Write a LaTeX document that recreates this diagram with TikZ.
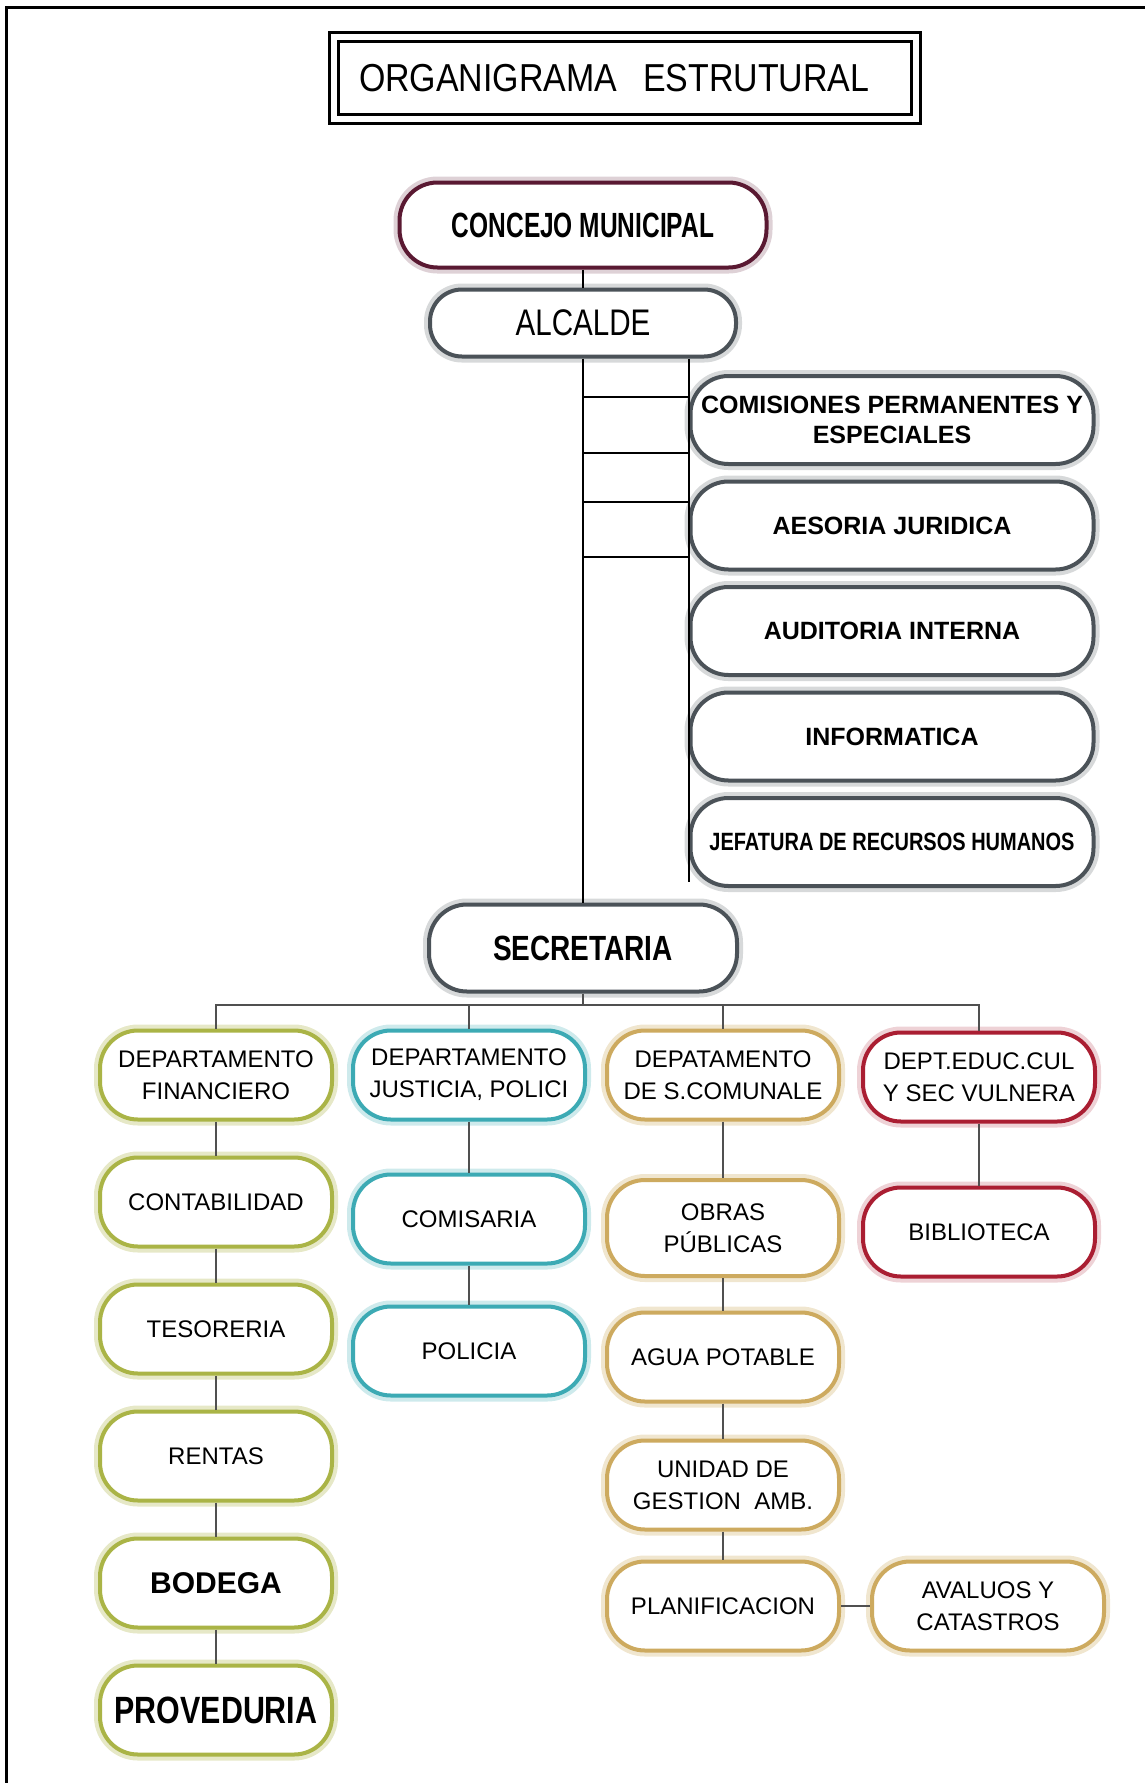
\documentclass[tikz,border=0pt]{standalone}
\usepackage{fontspec}
\setmainfont{Liberation Sans}
\newfontfamily\condfont[FakeStretch=0.7]{Liberation Sans}
\newfontfamily\narrowfont[FakeStretch=0.8]{Liberation Sans}
\newfontfamily\titlefont[FakeStretch=0.87]{Liberation Sans}
\usetikzlibrary{positioning}

\definecolor{pizarra}{RGB}{75,82,88}
\definecolor{granate}{RGB}{90,25,50}
\definecolor{oliva}{RGB}{170,180,70}
\definecolor{turquesa}{RGB}{60,170,180}
\definecolor{dorado}{RGB}{205,170,95}
\definecolor{carmesi}{RGB}{170,30,50}
\definecolor{conector}{RGB}{80,80,80}

\tikzset{
  pill/.style={draw, fill=white, rounded corners=19pt, line width=2pt, align=center, inner sep=2pt},
  glow/.style={preaction={draw=#1, line width=6pt}},
  gris/.style={pill, draw=pizarra, glow=pizarra!22},
  staff/.style={gris, minimum width=201.5pt, minimum height=44pt, font=\fontsize{12.5}{15}\selectfont\bfseries},
  depto/.style={pill, minimum width=116pt, minimum height=44.5pt, font=\fontsize{12}{16}\selectfont},
  finbox/.style={depto, draw=oliva, glow=oliva!30},
  jusbox/.style={depto, draw=turquesa, glow=turquesa!25},
  combox/.style={depto, draw=dorado, glow=dorado!30},
  edubox/.style={depto, draw=carmesi, glow=carmesi!20},
  linea/.style={draw=conector, line width=1pt}
}

\begin{document}
\begin{tikzpicture}[x=0.5pt, y=-0.5pt]
    \useasboundingbox (0,0) rectangle (1145,1783);
    \draw[line width=1.5pt] (6,1783) |- (1145,7);

    \node[draw, double, line width=1.5pt, double distance=3pt, minimum height=41pt,
          text width=266pt, inner xsep=12.5pt, align=left,
          font=\titlefont\fontsize{19.5}{22}\selectfont] (titulo) at (625,78) {ORGANIGRAMA\ \ ESTRUTURAL};

    \node[pill, draw=granate, glow=granate!20, minimum width=183.5pt, minimum height=42.5pt,
          font=\condfont\fontsize{17.5}{20}\selectfont\bfseries] (concejo) at (583,225) {CONCEJO MUNICIPAL};
    \node[gris, rounded corners=16pt, minimum width=153pt, minimum height=33.5pt, below of=concejo, node distance=49pt,
          font=\narrowfont\fontsize{18.5}{20}\selectfont] (alcalde) {ALCALDE};

    % staff units on the right
    \node[staff] (comisiones) at (892,420) {COMISIONES PERMANENTES Y\\ESPECIALES};
    \node[staff, below of=comisiones, node distance=52.75pt] (asesoria) {AESORIA JURIDICA};
    \node[staff, below of=asesoria, node distance=52.75pt] (auditoria) {AUDITORIA INTERNA};
    \node[staff, below of=auditoria, node distance=52.75pt] (informatica) {INFORMATICA};
    \node[staff, below of=informatica, node distance=52.75pt,
          font=\narrowfont\fontsize{12.5}{15}\selectfont\bfseries] (jefatura) {JEFATURA DE RECURSOS HUMANOS};

    \node[gris, minimum width=154pt, minimum height=43.5pt,
          font=\narrowfont\fontsize{17.5}{20}\selectfont\bfseries] (secretaria) at (583,948) {SECRETARIA};

    % departments
    \node[finbox] (financiero) at (216,1075) {DEPARTAMENTO\\FINANCIERO};
    \node[jusbox] (justicia) at (469,1075) {DEPARTAMENTO\\JUSTICIA, POLICI};
    \node[combox] (comunal) at (723,1075) {DEPATAMENTO\\DE S.COMUNALE};
    \node[edubox] (educacion) at (979,1077) {DEPT.EDUC.CUL\\Y SEC VULNERA};

    \node[finbox, below of=financiero, node distance=63.5pt] (contabilidad) {CONTABILIDAD};
    \node[finbox, below of=contabilidad, node distance=63.5pt] (tesoreria) {TESORERIA};
    \node[finbox, below of=tesoreria, node distance=63.5pt] (rentas) {RENTAS};
    \node[finbox, below of=rentas, node distance=63.5pt,
          font=\fontsize{15}{18}\selectfont\bfseries] (bodega) {BODEGA};
    \node[finbox, below of=bodega, node distance=63.5pt,
          font=\narrowfont\fontsize{19}{22}\selectfont\bfseries] (proveduria) {PROVEDURIA};

    \node[jusbox, below of=justicia, node distance=72pt] (comisaria) {COMISARIA};
    \node[jusbox, below of=comisaria, node distance=66pt] (policia) {POLICIA};

    \node[combox, minimum height=48pt, below of=comunal, node distance=76.5pt] (obras) {OBRAS\\PÚBLICAS};
    \node[combox, below of=obras, node distance=64.5pt] (agua) {AGUA POTABLE};
    \node[combox, below of=agua, node distance=64pt] (unidad) {UNIDAD DE\\GESTION\ \ AMB.};
    \node[combox, below of=unidad, node distance=60.5pt] (planificacion) {PLANIFICACION};
    \node[combox, right of=planificacion, node distance=132.5pt] (avaluos) {AVALUOS Y\\CATASTROS};

    \node[edubox, below of=educacion, node distance=77.5pt] (biblioteca) {BIBLIOTECA};

    % lines
    \draw[linea, draw=black] (concejo) -- (alcalde);
    \draw[linea, draw=black] (alcalde) -- (secretaria);
    \draw[linea, draw=black] (alcalde.south -| jefatura.west) -- ([yshift=3pt]jefatura.south west);
    \foreach \y in {397,453,502,557}
        \draw[linea, draw=black, line width=1.3pt] (alcalde.south |- 0,\y) -- (jefatura.west |- 0,\y);

    \draw[linea] (financiero.north) -- ++(0,-24) coordinate (barra) -| (educacion.north);
    \draw[linea] (secretaria) -- (secretaria.south |- barra);
    \draw[linea] (justicia) -- (justicia.north |- barra);
    \draw[linea] (comunal) -- (comunal.north |- barra);

    \draw[linea] (financiero) -- (contabilidad);
    \draw[linea] (contabilidad) -- (tesoreria);
    \draw[linea] (tesoreria) -- (rentas);
    \draw[linea] (rentas) -- (bodega);
    \draw[linea] (bodega) -- (proveduria);
    \draw[linea] (justicia) -- (comisaria);
    \draw[linea] (comisaria) -- (policia);
    \draw[linea] (comunal) -- (obras);
    \draw[linea] (obras) -- (agua);
    \draw[linea] (agua) -- (unidad);
    \draw[linea] (unidad) -- (planificacion);
    \draw[linea] (planificacion) -- (avaluos);
    \draw[linea] (educacion) -- (biblioteca);
\end{tikzpicture}
\end{document}
